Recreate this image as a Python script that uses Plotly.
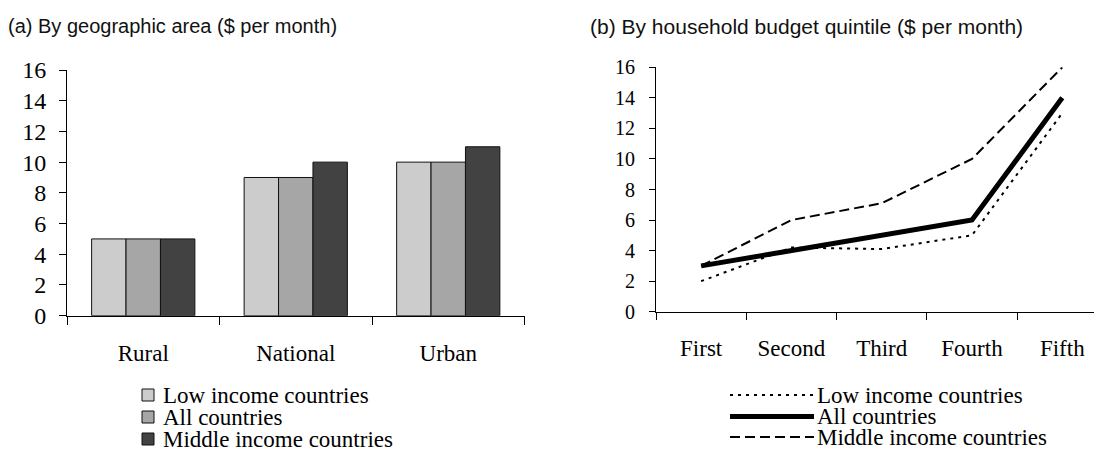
import plotly.graph_objects as go

# data
AREAS = ['Rural', 'National', 'Urban']
QUINTILES = ['First', 'Second', 'Third', 'Fourth', 'Fifth']
SERIES = ['Low income countries', 'All countries', 'Middle income countries']

AREA_LOW = [5, 9, 10]
AREA_ALL = [5, 9, 10]
AREA_MID = [5, 10, 11]

QUINT_LOW = [2, 4.2, 4.1, 5, 13]
QUINT_ALL = [3, 4, 5, 6, 14]
QUINT_MID = [3, 6, 7.1, 10, 16]

BAR_COLORS = ['#cccccc', '#a6a6a6', '#424242']
LINE_STYLES = [
    {'dash': '3px,5px', 'width': 2},
    {'dash': 'solid', 'width': 5},
    {'dash': '10px,5px', 'width': 2},
]

# the page body keeps an 8px margin, so the figure is shrunk by that much
# and positions below are given in window pixels
OFF = 8
W, H = 1102 - OFF, 449 - OFF
SERIF = 'Liberation Serif, Times New Roman, serif'
SANS = 'Liberation Sans, Arial, sans-serif'


def px(x):
    return (x - OFF) / W


def py(y):
    return 1 - (y - OFF) / H


fig = go.Figure()

for name, vals, col in zip(SERIES, [AREA_LOW, AREA_ALL, AREA_MID], BAR_COLORS):
    fig.add_trace(go.Bar(
        x=AREAS, y=vals, name=name,
        marker=dict(color=col, line=dict(color='#111111', width=1)),
        xaxis='x', yaxis='y', showlegend=False,
    ))

for name, vals, st in zip(SERIES, [QUINT_LOW, QUINT_ALL, QUINT_MID], LINE_STYLES):
    fig.add_trace(go.Scatter(
        x=QUINTILES, y=vals, name=name, mode='lines',
        line=dict(color='black', width=st['width'], dash=st['dash']),
        xaxis='x2', yaxis='y2', showlegend=False, cliponaxis=False,
    ))

axis_common = dict(
    showline=True, linecolor='black', linewidth=1,
    ticks='outside', tickcolor='black', tickwidth=1,
    showgrid=False, zeroline=False, fixedrange=True, automargin=False,
)

fig.update_layout(
    template='none',
    width=W, height=H,
    margin=dict(l=0, r=0, t=0, b=0, pad=0),
    paper_bgcolor='white', plot_bgcolor='white',
    bargap=0.323, bargroupgap=0,
    showlegend=False,
    xaxis=dict(
        axis_common, domain=[px(67), px(524.5)], anchor='y',
        type='category', range=[-0.5, 2.5], tickson='boundaries', ticklen=8,
        tickfont=dict(family=SERIF, size=23, color='black'), ticklabelstandoff=17,
    ),
    yaxis=dict(
        axis_common, domain=[py(315.7), py(70)], anchor='x',
        range=[0, 16], dtick=2, ticklen=7,
        tickfont=dict(family=SERIF, size=24, color='black'), ticklabelstandoff=8,
    ),
    xaxis2=dict(
        axis_common, domain=[px(656), 1.0], anchor='y2',
        type='category', range=[-0.5, 4.44], tickson='boundaries', ticklen=7,
        tickfont=dict(family=SERIF, size=23, color='black'), ticklabelstandoff=16,
    ),
    yaxis2=dict(
        axis_common, domain=[py(311.7), py(67.3)], anchor='x2',
        range=[0, 16], dtick=2, ticklen=6,
        tickfont=dict(family=SERIF, size=20, color='black'), ticklabelstandoff=10,
    ),
)

# panel titles
fig.add_annotation(text='(a) By geographic area ($ per month)', x=px(6), y=py(26),
                   xref='paper', yref='paper', xanchor='left', yanchor='middle',
                   showarrow=False, font=dict(family=SANS, size=20, color='#111111'))
fig.add_annotation(text='(b) By household budget quintile ($ per month)', x=px(588), y=py(26),
                   xref='paper', yref='paper', xanchor='left', yanchor='middle',
                   showarrow=False, font=dict(family=SANS, size=21, color='#111111'))

# legend for panel (a): grey squares + labels
left_rows = [395, 417, 439]
for name, col, ry in zip(SERIES, BAR_COLORS, left_rows):
    fig.add_shape(type='rect', xref='paper', yref='paper',
                  x0=px(142), x1=px(154), y0=py(ry + 6), y1=py(ry - 6),
                  fillcolor=col, line=dict(color='#111111', width=1))
    fig.add_annotation(text=name, x=px(161), y=py(ry), xref='paper', yref='paper',
                       xanchor='left', yanchor='middle', showarrow=False,
                       font=dict(family=SERIF, size=23, color='black'))

# legend for panel (b): line keys + labels
right_rows = [395, 416.5, 437]
for name, st, ry in zip(SERIES, LINE_STYLES, right_rows):
    fig.add_shape(type='line', xref='paper', yref='paper',
                  x0=px(730), x1=px(814), y0=py(ry), y1=py(ry),
                  line=dict(color='black', width=st['width'], dash=st['dash']))
    fig.add_annotation(text=name, x=px(815), y=py(ry), xref='paper', yref='paper',
                       xanchor='left', yanchor='middle', showarrow=False,
                       font=dict(family=SERIF, size=23, color='black'))

fig.write_html('out.html')
